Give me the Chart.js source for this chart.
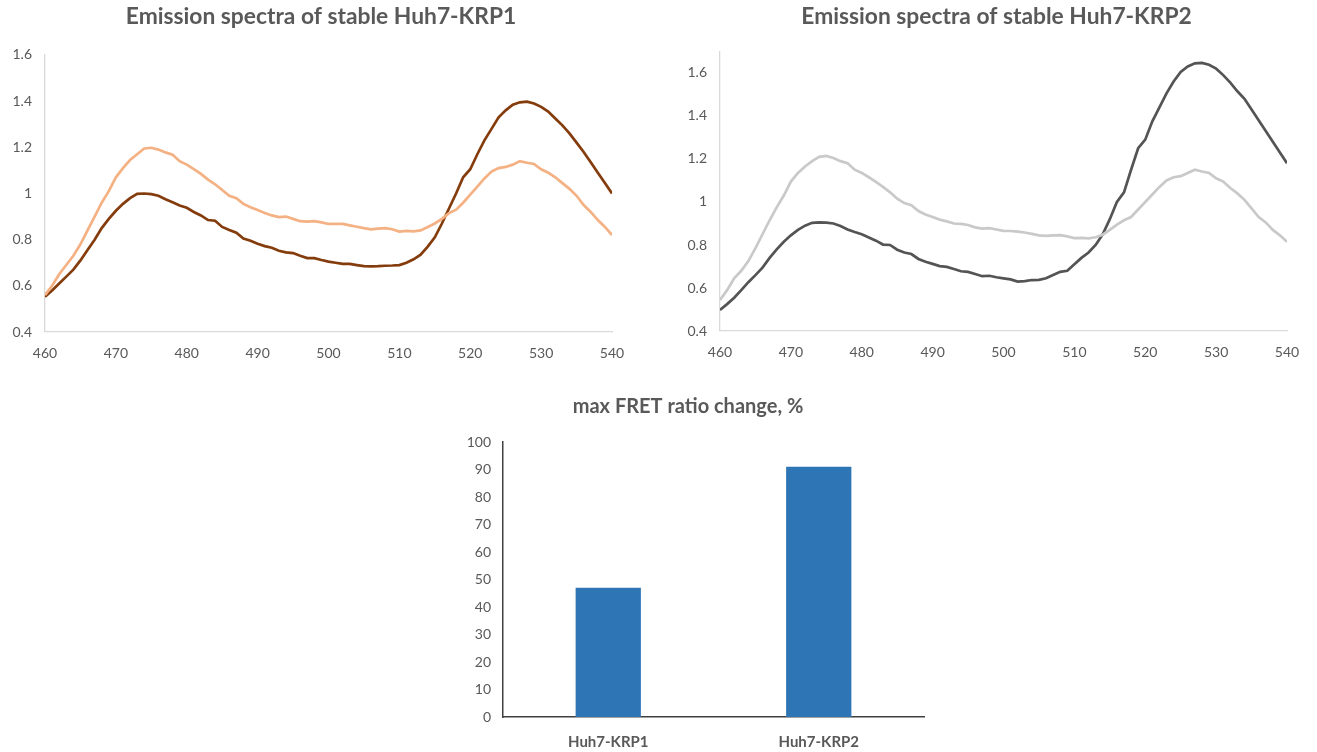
<!DOCTYPE html>
<html>
<head>
<meta charset="utf-8">
<script src="https://cdn.jsdelivr.net/npm/chart.js@4/dist/chart.umd.min.js"></script>
<style>
  html, body { margin: 0; padding: 0; background: #ffffff; }
  body { width: 1317px; height: 752px; position: relative; overflow: hidden; }
  canvas { position: absolute; }
</style>
</head>
<body>
<canvas id="c1" width="650" height="370" style="left:0px;top:0px;"></canvas>
<canvas id="c2" width="657" height="370" style="left:660px;top:0px;"></canvas>
<canvas id="c3" width="500" height="372" style="left:440px;top:380px;"></canvas>
<script>
// ---------- DATA ----------
const wavelengths = [460,461,462,463,464,465,466,467,468,469,470,471,472,473,474,475,476,477,478,479,480,481,482,483,484,485,486,487,488,489,490,491,492,493,494,495,496,497,498,499,500,501,502,503,504,505,506,507,508,509,510,511,512,513,514,515,516,517,518,519,520,521,522,523,524,525,526,527,528,529,530,531,532,533,534,535,536,537,538,539,540];

const krp1Dark = [0.553,0.58,0.61,0.64,0.67,0.71,0.755,0.80,0.85,0.89,0.925,0.955,0.98,0.998,1.0,0.997,0.99,0.975,0.962,0.948,0.938,0.92,0.905,0.885,0.882,0.855,0.842,0.83,0.805,0.795,0.782,0.772,0.765,0.752,0.745,0.742,0.73,0.72,0.72,0.712,0.705,0.70,0.695,0.695,0.69,0.685,0.684,0.685,0.687,0.688,0.69,0.70,0.715,0.735,0.77,0.81,0.87,0.935,1.0,1.07,1.105,1.17,1.23,1.28,1.33,1.36,1.385,1.395,1.398,1.39,1.375,1.355,1.325,1.295,1.26,1.22,1.18,1.135,1.09,1.045,1.0];

const krp1Light = [0.56,0.60,0.65,0.69,0.73,0.78,0.84,0.90,0.96,1.01,1.07,1.11,1.145,1.17,1.195,1.198,1.19,1.178,1.168,1.14,1.125,1.105,1.085,1.06,1.04,1.015,0.99,0.98,0.955,0.94,0.928,0.915,0.905,0.898,0.9,0.89,0.88,0.878,0.88,0.875,0.868,0.868,0.868,0.862,0.856,0.85,0.845,0.848,0.85,0.845,0.835,0.838,0.836,0.84,0.855,0.87,0.89,0.915,0.93,0.96,0.995,1.03,1.065,1.095,1.11,1.115,1.125,1.14,1.133,1.128,1.105,1.09,1.07,1.045,1.02,0.99,0.95,0.92,0.885,0.855,0.82];

const krp2Dark = [0.498,0.525,0.555,0.59,0.627,0.66,0.695,0.74,0.78,0.815,0.845,0.87,0.89,0.903,0.905,0.904,0.9,0.888,0.872,0.86,0.85,0.835,0.82,0.802,0.8,0.778,0.765,0.758,0.735,0.722,0.712,0.702,0.698,0.688,0.678,0.675,0.665,0.655,0.657,0.65,0.645,0.64,0.63,0.632,0.637,0.638,0.645,0.66,0.675,0.68,0.71,0.74,0.765,0.8,0.85,0.92,1.0,1.045,1.15,1.25,1.29,1.375,1.44,1.505,1.56,1.605,1.63,1.645,1.647,1.638,1.62,1.59,1.555,1.515,1.48,1.43,1.38,1.33,1.28,1.23,1.18];

const krp2Light = [0.544,0.59,0.645,0.68,0.725,0.785,0.85,0.915,0.975,1.03,1.095,1.135,1.165,1.19,1.21,1.214,1.205,1.19,1.18,1.15,1.135,1.115,1.093,1.07,1.045,1.015,0.995,0.985,0.958,0.942,0.93,0.918,0.91,0.9,0.898,0.893,0.882,0.876,0.878,0.872,0.866,0.865,0.862,0.858,0.852,0.845,0.842,0.845,0.846,0.84,0.832,0.833,0.831,0.836,0.848,0.87,0.895,0.915,0.93,0.965,1.0,1.035,1.07,1.1,1.115,1.12,1.135,1.15,1.142,1.135,1.11,1.095,1.065,1.04,1.01,0.97,0.93,0.905,0.87,0.845,0.815];

const barCategories = ["Huh7-KRP1", "Huh7-KRP2"];
const barValues = [47, 91];

const titles = ["Emission spectra of stable Huh7-KRP1", "Emission spectra of stable Huh7-KRP2", "max FRET ratio change, %"];

// ---------- STYLE ----------
const FONT = "Lato, 'Open Sans', sans-serif";
const TXT = "#595959";
const AXIS_LIGHT = "#d9d9d9";

function pts(ys) { return wavelengths.map((x, i) => ({ x: x, y: ys[i] })); }

// centre the title at a given canvas x (Excel centres it on the whole chart frame)
function titleCenterPlugin(cx) {
  return {
    id: 'titleCenter',
    afterLayout(chart) {
      const t = chart.titleBlock;
      if (t) { t.left = cx - 300; t.right = cx + 300; t.width = 600; }
    }
  };
}

function lineChart(id, title, series, yMax, yWidth, xHeight, padR, titlePad, titleCx) {
  return new Chart(document.getElementById(id), {
    type: 'line',
    data: {
      datasets: series.map(s => ({
        data: pts(s.values),
        borderColor: s.color,
        borderWidth: 2.7,
        pointRadius: 0,
        tension: 0,
        fill: false
      }))
    },
    options: {
      responsive: false,
      animation: false,
      layout: { padding: { left: 0, right: padR, top: 0, bottom: 0 } },
      plugins: {
        legend: { display: false },
        tooltip: { enabled: false },
        title: {
          display: true,
          text: title,
          color: TXT,
          font: { family: FONT, size: 22.8, weight: 'bold' },
          padding: titlePad
        }
      },
      scales: {
        x: {
          type: 'linear',
          min: 460, max: 540,
          grid: { display: false, drawTicks: false },
          border: { display: true, color: AXIS_LIGHT, width: 1.3 },
          ticks: { stepSize: 10, color: TXT, font: { family: FONT, size: 14 }, padding: 13 },
          afterFit: s => { s.height = xHeight; }
        },
        y: {
          min: 0.4, max: yMax,
          grid: { display: false, drawTicks: false },
          border: { display: true, color: AXIS_LIGHT, width: 1.3 },
          ticks: {
            stepSize: 0.2, includeBounds: false, color: TXT,
            font: { family: FONT, size: 14 }, padding: 13,
            callback: v => String(Number(v.toFixed(1)))
          },
          afterFit: s => { s.width = yWidth; }
        }
      }
    },
    plugins: [titleCenterPlugin(titleCx)]
  });
}

lineChart('c1', titles[0], [
  { values: krp1Light, color: '#F4B183' },
  { values: krp1Dark, color: '#843C0C' }
], 1.6, 45, 38, 38, { top: 3.3, bottom: 24.3 }, 321);

lineChart('c2', titles[1], [
  { values: krp2Light, color: '#C9C9C9' },
  { values: krp2Dark, color: '#545454' }
], 1.7, 60, 39, 30, { top: 3.3, bottom: 20.8 }, 336.5);

new Chart(document.getElementById('c3'), {
  type: 'bar',
  data: {
    labels: barCategories,
    datasets: [{
      data: barValues,
      backgroundColor: '#2E75B6',
      borderWidth: 0,
      barPercentage: 0.31,
      categoryPercentage: 1.0
    }]
  },
  options: {
    responsive: false,
    animation: false,
    layout: { padding: { left: 0, right: 16, top: 0, bottom: 0 } },
    plugins: {
      legend: { display: false },
      tooltip: { enabled: false },
      title: {
        display: true,
        text: titles[2],
        color: TXT,
        font: { family: FONT, size: 20, weight: 'bold' },
        padding: { top: 15, bottom: 23 }
      }
    },
    scales: {
      x: {
        grid: { display: false, drawTicks: false },
        border: { display: true, color: '#404040', width: 1.5 },
        ticks: { color: TXT, font: { family: FONT, size: 15, weight: 'bold' }, padding: 16 },
        afterFit: s => { s.height = 35; }
      },
      y: {
        min: 0, max: 100,
        grid: { display: false, drawTicks: false },
        border: { display: true, color: '#404040', width: 1.5 },
        ticks: { stepSize: 10, color: TXT, font: { family: FONT, size: 14 }, padding: 12 },
        afterFit: s => { s.width = 63; }
      }
    }
  },
  plugins: [titleCenterPlugin(248)]
});
</script>
</body>
</html>
